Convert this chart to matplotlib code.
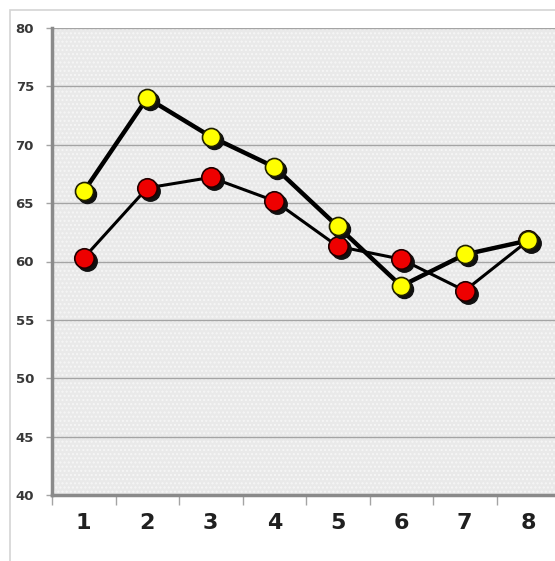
import matplotlib
matplotlib.use("Agg")
import matplotlib.pyplot as plt
import matplotlib.transforms as mtransforms
from matplotlib.patches import Rectangle

categories = [1, 2, 3, 4, 5, 6, 7, 8]
yellow_series = [66.0, 74.0, 70.7, 68.1, 63.0, 57.9, 60.6, 61.8]
red_series = [60.3, 66.3, 67.2, 65.2, 61.3, 60.2, 57.5, 61.8]
y_ticks = [40, 45, 50, 55, 60, 65, 70, 75, 80]

fig = plt.figure(figsize=(5.55, 5.61), dpi=100)
fig.patch.set_facecolor("white")
W, H = 555, 561
fig.patches.append(Rectangle((10 / W, -0.1), 1.2, 1 - 10 / H + 0.1, transform=fig.transFigure,
                             fill=False, edgecolor="#d4d4d4", linewidth=1.2))

ax = fig.add_axes([52 / W, 1 - 495 / H, 508 / W, (495 - 28) / H])
ax.set_facecolor("#e9e9e9")
ax.patch.set_hatch("....")
ax.patch.set_edgecolor("#f6f6f6")
ax.set_xlim(0.5, 8.5)
ax.set_ylim(40, 80)

ax.set_yticks(y_ticks)
ax.set_yticklabels([str(v) for v in y_ticks], fontsize=9.5, fontweight="bold", color="#383838")
ax.yaxis.grid(True, color="#a4a4a4", linewidth=1.0)
ax.set_axisbelow(True)
ax.tick_params(axis="y", length=4, color="#a4a4a4", width=1.0, pad=9)

ax.set_xticks(categories)
ax.set_xticklabels([str(c) for c in categories], fontsize=16, fontweight="bold", color="#202020")
ax.tick_params(axis="x", length=0, pad=13)
ax.set_xticks([c - 0.5 for c in categories] + [8.5], minor=True)
ax.tick_params(axis="x", which="minor", length=7, color="#a4a4a4", width=1.0)

for s in ["top", "right"]:
    ax.spines[s].set_visible(False)
for s in ["left", "bottom"]:
    ax.spines[s].set_color("#8a8a8a")
    ax.spines[s].set_linewidth(2.5)

shadow = mtransforms.offset_copy(ax.transData, fig=fig, x=3, y=-3, units="dots")

ax.plot(categories, red_series, color="black", linewidth=2.2, zorder=3)
ax.plot(categories, red_series, linestyle="none", marker="o", markersize=14,
        color="#101010", transform=shadow, zorder=4)
ax.plot(categories, red_series, linestyle="none", marker="o", markersize=14,
        markerfacecolor="#ee0000", markeredgecolor="#200000", markeredgewidth=1.2, zorder=5)

ax.plot(categories, yellow_series, color="black", linewidth=3.2, zorder=6)
ax.plot(categories, yellow_series, linestyle="none", marker="o", markersize=13,
        color="#101010", transform=shadow, zorder=7)
ax.plot(categories, yellow_series, linestyle="none", marker="o", markersize=13,
        markerfacecolor="#ffff00", markeredgecolor="#202000", markeredgewidth=1.2, zorder=8)

fig.savefig("out.png", dpi=100)
